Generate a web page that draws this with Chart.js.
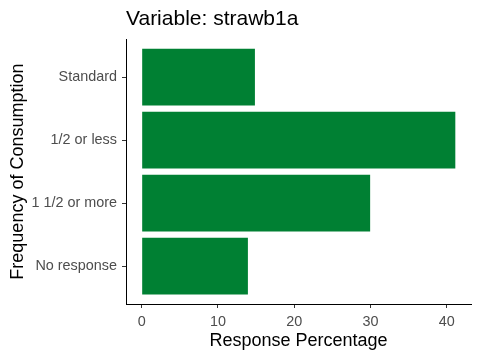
<!DOCTYPE html>
<html><head><meta charset="utf-8">
<script src="https://cdn.jsdelivr.net/npm/chart.js@4"></script>
<style>html,body{margin:0;padding:0;background:#fff}#c{display:block}</style>
</head><body>
<canvas id="c" width="480" height="360"></canvas>
<script>
const categories = ["Standard", "1/2 or less", "1 1/2 or more", "No response"];
const percentages = [14.85, 41.13, 29.96, 13.93];
const xTicks = [0, 10, 20, 30, 40];
const titleText = "Variable: strawb1a";
const xTitle = "Response Percentage";
const yTitle = "Frequency of Consumption";

const maxVal = Math.max(...percentages);
const xMin = -0.05 * maxVal, xMax = maxVal * 1.05;
const FONT = "'Liberation Sans', Arial, sans-serif";

new Chart(document.getElementById('c'), {
  type: 'bar',
  data: {
    datasets: [{
      data: percentages.map((v, i) => ({ x: v, y: i })),
      backgroundColor: '#008033',
      borderWidth: 0,
      barPercentage: 0.9,
      categoryPercentage: 1
    }]
  },
  options: {
    responsive: false,
    animation: false,
    indexAxis: 'y',
    layout: { padding: { left: 0, right: 9, top: 0, bottom: 0 } },
    plugins: {
      legend: { display: false },
      tooltip: { enabled: false },
      title: {
        display: true, text: titleText, align: 'start', fullSize: false,
        color: '#000', font: { family: FONT, size: 21, weight: 'normal' },
        padding: { top: 7, bottom: 7 }
      }
    },
    scales: {
      x: {
        type: 'linear', min: xMin, max: xMax,
        afterBuildTicks: s => { s.ticks = xTicks.map(v => ({ value: v })); },
        grid: { drawOnChartArea: false, drawTicks: true, tickLength: 4, color: '#333' },
        border: { display: true, color: '#000', width: 1 },
        ticks: { color: '#4D4D4D', font: { family: FONT, size: 14.4 }, padding: 5, maxRotation: 0 },
        title: { display: true, text: xTitle, color: '#000', font: { family: FONT, size: 18 }, padding: { top: 0, bottom: 8.3 } },
        afterFit: s => { s.height = 56; }
      },
      y: {
        type: 'linear', min: -0.6, max: 3.6, reverse: true, offset: false,
        afterBuildTicks: s => { s.ticks = categories.map((c, i) => ({ value: i })); },
        grid: { drawOnChartArea: false, drawTicks: true, tickLength: 4, color: '#333', offset: false },
        border: { display: true, color: '#000', width: 1 },
        ticks: { color: '#4D4D4D', font: { family: FONT, size: 14.4 }, padding: 5, callback: v => categories[v] },
        title: { display: true, text: yTitle, color: '#000', font: { family: FONT, size: 18 }, padding: { top: 7, bottom: 0 } },
        afterFit: s => { s.width = 126; }
      }
    }
  }
});
</script>
</body></html>
